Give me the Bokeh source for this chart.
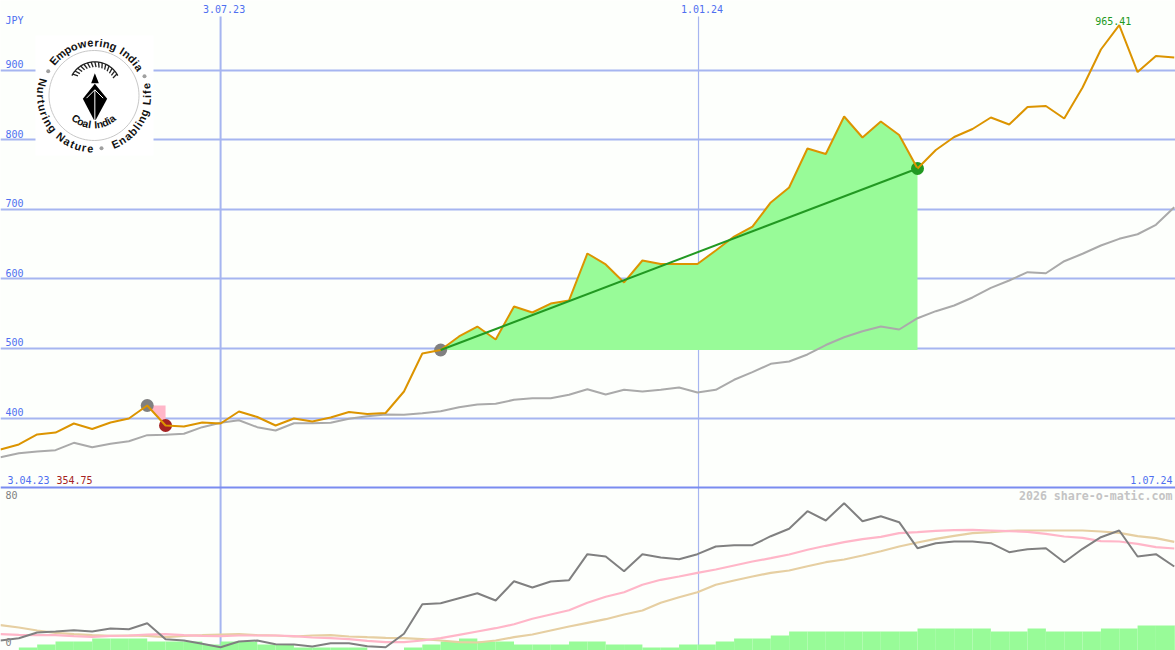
import numpy as np
from bokeh.plotting import figure
from bokeh.models import Range1d, FixedTicker
from bokeh.core.properties import value
from bokeh.embed import file_html
from bokeh.resources import INLINE

# --- data -------------------------------------------------------------
price = [354.75,361.9,376.3,379.1,392.1,384.2,393.5,399.3,418.0,389.2,387.8,393.5,392.1,409.4,401.4,389.2,399.3,395.0,400.7,408.6,
         405.8,407.2,438.1,492.8,497.8,517.3,531.6,513.0,560.4,551.8,564.7,569.1,636.7,620.9,595.0,626.6,621.6,621.6,621.6,641.0,
         661.1,675.5,710.1,731.6,787.7,779.9,833.8,803.6,826.6,807.2,759.0,785.6,804.3,815.8,832.4,822.3,847.5,848.9,830.9,875.5,
         930.2,965.41,897.8,920.8,918.7]
price_ma = [343.6,349.4,351.8,353.7,364.3,358.0,362.9,366.6,375.3,375.8,377.3,386.8,393.1,396.8,386.8,382.0,392.5,392.5,393.1,398.8,
            402.6,405.0,404.6,406.9,409.8,415.5,419.4,420.4,426.2,428.5,428.5,433.4,441.4,433.8,440.6,438.1,440.6,443.9,436.7,440.6,
            455.0,465.9,478.0,481.3,491.4,505.0,516.2,524.9,531.6,527.3,543.6,553.7,561.9,573.4,587.3,597.8,609.8,608.3,625.6,636.3,
            648.2,657.8,664.4,678.0,703.3]
osc = [5,6.15,9,9.5,10.15,9.5,11,10.65,13.65,5.65,5,3.35,1.65,4.5,5,3.15,3,2,3.65,3.65,
       2.15,1.65,8.35,23.15,23.65,26.15,28.65,25,34.65,31.5,34.5,35.15,48.15,47,39.65,48.15,46.5,45.65,48.15,52,
       52.65,52.65,57.15,60.85,69.65,65,73.65,64.65,67.15,64.15,51.15,53.65,54.5,54.5,53.65,49.15,50.65,51.15,44.15,50.85,
       56.65,60,47,48.15,42]
osc_fast = [8.15,7.85,7.65,7.65,7.15,6.85,7.35,7.5,8,8.15,7.65,7.35,7.15,7.5,7.5,7.5,7.15,6.5,6.15,5.65,
            4.85,4.15,4.15,5,6.15,7.85,9.5,11.15,13.15,15.85,18,20.15,23.85,26.85,29.15,32.85,35.35,37,38.85,40.5,
            42.5,44.5,46.15,48,50.35,52.35,54.15,55.65,56.85,58.65,59.15,59.85,60.15,60.35,60,59.65,59.35,58.35,57,56.35,
            54.65,54.5,53.35,51.65,51]
osc_slow = [12.65,11.5,10,8.85,8.15,7.65,7.35,7.5,7.35,6.65,7.35,7.65,8,8.15,7.65,7.5,7,7.5,7.65,7,
            6.65,6.35,6.15,5.65,5,4.15,4,5,6.65,8,10,12,13.85,15.65,18,20,23.85,26.65,29.15,32.85,
            35,37,38.85,40,42.15,44.15,45.5,47.5,49.65,52,54,55.85,57.35,58.65,59.15,59.85,60,60,60,60,
            59.5,58.85,57.15,56.15,54.35]
bars = [0,1.5,3,4.5,4.5,6,6,6,4.5,4.5,4.5,3,4.5,4.5,3,3,1.5,1.5,1.5,1.5,
        0,0,1.5,3,4.5,6,4.5,4.5,3,3,3,4.5,4.5,3,3,1.5,1.5,3,3,4.5,
        6,6,7.5,9.5,9.5,9.5,9.5,9.5,9.5,9.5,11,11,11,11,9.5,9.5,11,9.5,9.5,9.5,
        11,11,12.5,12.5,12.5]
price_ticks = [400,500,600,700,800,900]
price_tick_labels = ["400","500","600","700","800","900"]
date_ticks = [12,38.06]
date_labels = ["3.07.23","1.01.24"]
trade_in = 24
trade_out = 50
loss_in = 8
loss_out = 9

n = len(price)
idx = list(range(n))

# --- pixel helpers (used for the annotations only) ---------------------
PXW = 18.34
def X(px): return np.asarray(px, dtype=float) / PXW
def Y(py): return 1000.7 - 1.4388 * np.asarray(py, dtype=float)

BG = "#fdfffc"
GRID = "#a6b5f0"
RULE = "#7a8cf0"
BLUE = "#4f6ff0"
ORANGE = "#dc9400"
PALE = "#98fb98"
FOREST = "#229922"
MONO = value("DejaVu Sans Mono")

p = figure(width=1175, height=650, output_backend="svg", toolbar_location=None,
           x_range=Range1d(float(X(0)), float(X(1175))), y_range=Range1d(float(Y(650)), float(Y(0))),
           min_border=0, background_fill_color=BG, border_fill_color=BG,
           outline_line_color=None)
p.extra_y_ranges = {"lower": Range1d(0, 325)}
p.xaxis.visible = False
p.yaxis.visible = False
p.xgrid.visible = False
p.ygrid.ticker = FixedTicker(ticks=price_ticks)
p.ygrid.grid_line_color = GRID
p.ygrid.grid_line_width = 2

# vertical date lines, panel rule
p.segment(x0=[date_ticks[0]], x1=[date_ticks[0]], y0=[float(Y(16))], y1=[float(Y(650))], line_color=GRID, line_width=2)
p.segment(x0=[date_ticks[1]], x1=[date_ticks[1]], y0=[float(Y(16))], y1=[float(Y(650))], line_color=GRID, line_width=1.2)
p.segment(x0=[float(X(0))], x1=[float(X(1175))], y0=[float(Y(487))], y1=[float(Y(487))], line_color=RULE, line_width=2)

# winning trade area
tx = idx[trade_in:trade_out + 1]
ty = price[trade_in:trade_out + 1]
p.varea(x=tx, y1=[price[trade_in]] * len(tx), y2=ty, fill_color=PALE)

# losing trade triangle
p.patch(x=[loss_in, loss_out, loss_out], y=[price[loss_in], price[loss_in], price[loss_out]],
        fill_color="#ffb6c8", line_color=None)

# lower panel
p.quad(left=idx, right=[i + 1 for i in idx], bottom=[0] * n, top=bars, fill_color=PALE, line_color=None, y_range_name="lower")
p.line(idx, osc_slow, line_color="#e6cfa2", line_width=2.2, y_range_name="lower")
p.line(idx, osc_fast, line_color="#ffb6c8", line_width=2.2, y_range_name="lower")
p.line(idx, osc, line_color="#808080", line_width=2, y_range_name="lower")

# upper panel
p.line(idx, price_ma, line_color="#aaaaaa", line_width=2)
p.scatter([loss_in, trade_in], [price[loss_in], price[trade_in]], size=13, fill_color="#808080", line_color=None)
p.scatter([loss_out], [price[loss_out]], size=13, fill_color="#a52222", line_color=None)
p.scatter([trade_out], [price[trade_out]], size=13, fill_color=FOREST, line_color=None)
p.line(idx, price, line_color=ORANGE, line_width=2)
p.line([trade_in, trade_out], [price[trade_in], price[trade_out]], line_color=FOREST, line_width=2)

# axis texts
p.text(x=[float(X(5))] * len(price_ticks), y=price_ticks, text=price_tick_labels, text_font=MONO, text_font_size="10px",
       text_color=BLUE, text_align="left", text_baseline="middle", y_offset=-6)
p.text(x=date_ticks, y=[float(Y(8))] * 2, text=date_labels, text_font=MONO, text_font_size="10px",
       text_color=BLUE, text_align="center", text_baseline="middle", x_offset=3.5)
def label(px, py, s, color, align="left", size="10px", style="normal"):
    p.text(x=[float(X(px))], y=[float(Y(py))], text=[s], text_font=MONO, text_font_size=size, text_color=color,
           text_align=align, text_baseline="middle", text_font_style=style)
label(5, 20, "JPY", BLUE)
label(7, 479, "3.04.23", BLUE)
label(56, 479, "354.75", "#a52222")
label(1172, 479, "1.07.24", BLUE, align="right")
label(5, 494.5, "80", "#808080")
label(5, 641, "0", "#808080")
label(1172, 495.5, "2026 share-o-matic.com", "#c4c4c4", align="right", size="11.6px", style="bold")
p.text(x=[idx[price.index(max(price))]], y=[max(price)], text=["965.41"], text_font=MONO, text_font_size="10px",
       text_color=FOREST, text_align="center", text_baseline="bottom", x_offset=-6, y_offset=0)

# --- logo ---------------------------------------------------------------
CX, CY = 93.5, 95.0
p.quad(left=[float(X(35))], right=[float(X(153))], top=[float(Y(35))], bottom=[float(Y(155))], fill_color="#ffffff", line_color=None)
t = np.linspace(0, 2 * np.pi, 90)
p.line(X(CX + 45 * np.cos(t)), Y(CY + 45 * np.sin(t)), line_color="#c8c8c8", line_width=1)
p.scatter(X([47.7, 144, 101]), Y([70.7, 75.7, 147.7]), size=4, fill_color="#a0a0a0", line_color=None)

NARROW = {"i": .55, "l": .55, "I": .6, " ": .6, "f": .65, "t": .7, "r": .75, "m": 1.4, "w": 1.4, "E": 1.1, "N": 1.2, "C": 1.2}
def arc_text(s, th0, th1, r, size, inward):
    w = np.array([NARROW.get(c, 1.0) for c in s])
    pos = np.cumsum(w) - w / 2
    pos = (pos - pos[0]) / (pos[-1] - pos[0])
    th = th0 + (th1 - th0) * pos
    rad = np.radians(th)
    xs = CX + r * np.sin(rad)
    ys = CY - r * np.cos(rad)
    ang = np.radians(180 - th) if inward else np.radians(-th)
    keep = [i for i, c in enumerate(s) if c != " "]
    p.text(x=X(xs[keep]), y=Y(ys[keep]), text=[s[i] for i in keep], angle=ang[keep],
           text_font=value("Liberation Sans"), text_font_size=size, text_font_style="bold",
           text_color="#111111", text_align="center", text_baseline="middle")

arc_text("Empowering India", -49, 58, 53, "11px", False)
arc_text("Enabling Life", 156, 80, 53, "11px", True)
arc_text("Nurturing Nature", 284, 184, 53, "11px", True)
arc_text("Coal India", 218, 142, 29, "10.5px", True)

# emblem
def zx(z): return X(np.asarray(z, dtype=float) / 3)
def zy(z): return Y(np.asarray(z, dtype=float) / 3)
p.patch(zx([283, 272, 295]), zy([218, 248, 248]), fill_color="#000000", line_color=None)
p.patch(zx([283, 247, 280, 286, 320]), zy([250, 295, 358, 358, 295]), fill_color="#000000", line_color=None)
p.multi_line([list(zx([283, 283])), list(zx([283, 258])), list(zx([283, 308]))],
             [list(zy([268, 358])), list(zy([268, 293])), list(zy([268, 293]))], line_color="#ffffff", line_width=1)
# script arc above the emblem
s = np.radians(np.linspace(-62, 62, 40))
p.line(zx(283 + 78 * np.sin(s)), zy(262 - 78 * np.cos(s)), line_color="#222222", line_width=1.3)
marks = np.radians(np.linspace(-58, 58, 15))
p.multi_line([list(zx([283 + 78 * np.sin(a), 283 + 62 * np.sin(a + .06)])) for a in marks],
             [list(zy([262 - 78 * np.cos(a), 262 - 62 * np.cos(a + .06)])) for a in marks],
             line_color="#222222", line_width=1.3)

open("out.html", "w").write(file_html(p, INLINE))
